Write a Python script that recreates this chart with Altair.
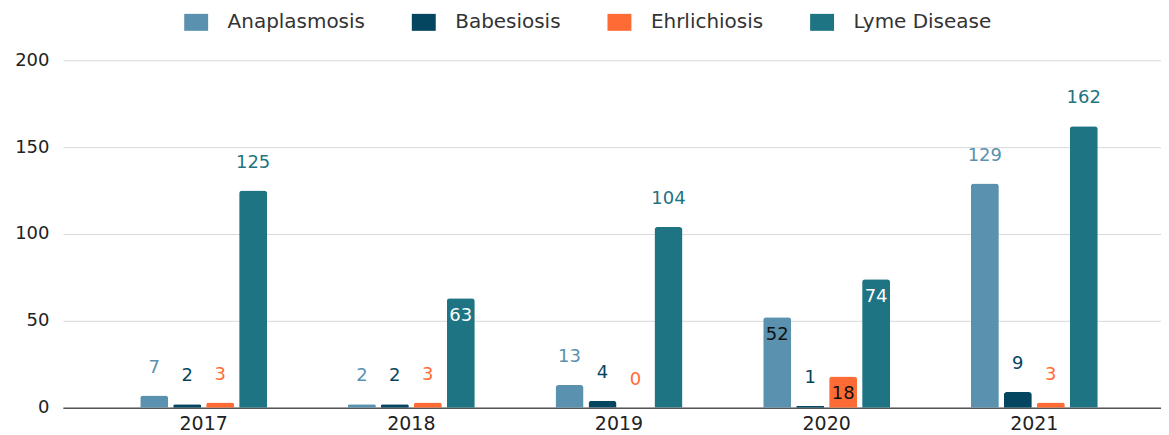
import altair as alt
import pandas as pd

years = ["2017", "2018", "2019", "2020", "2021"]
diseases = ["Anaplasmosis", "Babesiosis", "Ehrlichiosis", "Lyme Disease"]
anaplasmosis = [7, 2, 13, 52, 129]
babesiosis = [2, 2, 4, 1, 9]
ehrlichiosis = [3, 3, 0, 18, 3]
lyme = [125, 63, 104, 74, 162]
colors = ["#5a91ae", "#04465f", "#ff6b35", "#1e7482"]
# labels drawn inside the bar top in the original
inside_labels = [("2018", "Lyme Disease"), ("2020", "Anaplasmosis"),
                 ("2020", "Ehrlichiosis"), ("2020", "Lyme Disease")]

series = dict(zip(diseases, [anaplasmosis, babesiosis, ehrlichiosis, lyme]))
rows = []
for d in diseases:
    for y, v in zip(years, series[d]):
        rows.append({"year": y, "disease": d, "value": v,
                     "inside": (y, d) in inside_labels})
df = pd.DataFrame(rows)

FONT = "DejaVu Sans"
# wide legend swatch (the original's swatches are wider than tall)
SWATCH = "M-1.41,-1L1.41,-1L1.41,1L-1.41,1Z"

x = alt.X("year:N", sort=years, title=None,
          scale=alt.Scale(paddingInner=0.389, paddingOuter=0.3385, align=0.55),
          axis=alt.Axis(labelAngle=0, labelFont=FONT, labelFontSize=19,
                        labelColor="#222", labelPadding=7, ticks=False,
                        domainColor="#555", domainWidth=1.5, grid=False))
xo = alt.XOffset("disease:N", sort=diseases,
                 scale=alt.Scale(paddingInner=0.152, paddingOuter=0))
y = alt.Y("value:Q", title=None,
          scale=alt.Scale(domain=[0, 200], nice=False),
          axis=alt.Axis(values=[0, 50, 100, 150, 200], labelFont=FONT,
                        labelFontSize=18, labelColor="#222", labelPadding=14,
                        ticks=False, domain=False, gridColor="#d9d9d9",
                        gridWidth=1))
color_scale = alt.Scale(domain=diseases, range=colors)

base = alt.Chart(df).encode(x=x, xOffset=xo, y=y)

bars = base.mark_bar(cornerRadiusTopLeft=3, cornerRadiusTopRight=3).encode(
    color=alt.Color("disease:N", sort=diseases, scale=color_scale, title=None,
                    legend=alt.Legend(orient="none", legendX=123.5, legendY=-48,
                                      direction="horizontal", symbolType=SWATCH,
                                      symbolSize=289, symbolStrokeWidth=0,
                                      columnPadding=46, labelOffset=21.5,
                                      labelFont=FONT, labelFontSize=20,
                                      labelColor="#333"))
)

outside = base.transform_filter("!datum.inside").mark_text(
    font=FONT, fontSize=18, baseline="middle", dy=-28).encode(
    text="value:Q",
    color=alt.Color("disease:N", sort=diseases, scale=color_scale, legend=None))

inside_dark = base.transform_filter(
    "datum.inside && datum.disease != 'Lyme Disease'").mark_text(
    font=FONT, fontSize=18, baseline="middle", dy=18, color="#111").encode(
    text="value:Q")

inside_light = base.transform_filter(
    "datum.inside && datum.disease == 'Lyme Disease'").mark_text(
    font=FONT, fontSize=18, baseline="middle", dy=18, color="#ffffff").encode(
    text="value:Q")

chart = alt.layer(bars, outside, inside_dark, inside_light).properties(
    width=1100, height=348,
    autosize="none",
    padding={"left": 55, "top": 52, "right": 0, "bottom": 27},
).configure_view(stroke=None)

chart.save("out.html", embed_options={"renderer": "svg", "actions": False})
